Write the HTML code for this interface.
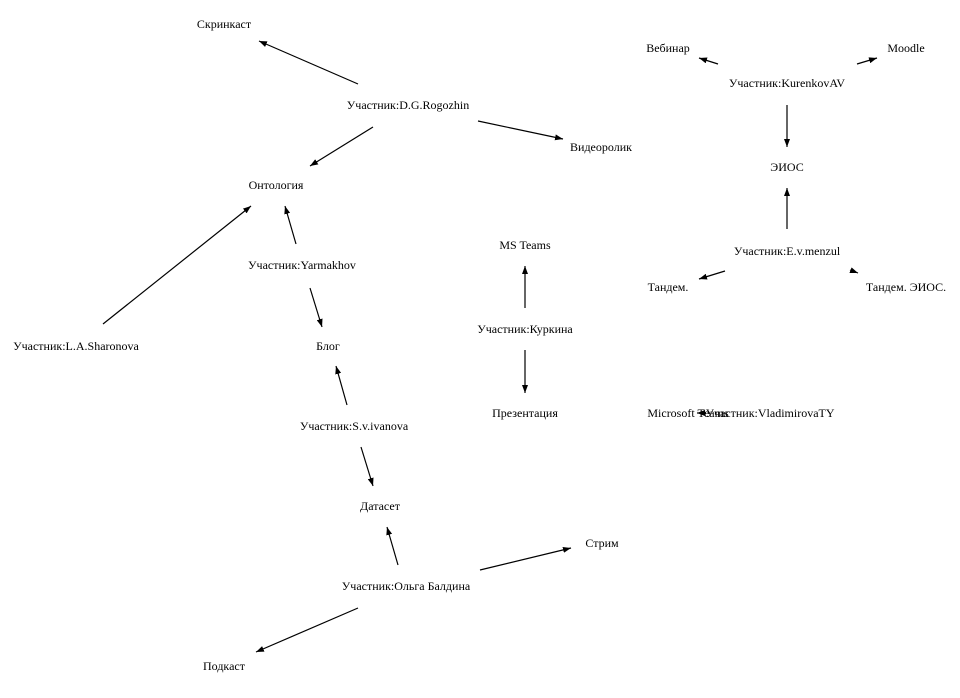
<!DOCTYPE html>
<html><head><meta charset="utf-8"><style>body{margin:0;background:#fff}svg text{font-family:"Liberation Serif","Noto Serif CJK SC",serif;font-size:12px;text-anchor:middle}</style></head><body>
<svg width="960" height="693" viewBox="0 0 960 693" xmlns="http://www.w3.org/2000/svg">
<defs><marker id="a" markerWidth="8" markerHeight="6" refX="8" refY="3" orient="auto" markerUnits="userSpaceOnUse"><path d="M0,0L8,3L0,6z" fill="#000"/></marker></defs>
<g stroke="#000" stroke-width="1.2" marker-end="url(#a)">
<line x1="358" y1="84" x2="259" y2="41"/>
<line x1="373" y1="127" x2="310" y2="166"/>
<line x1="478" y1="121" x2="563" y2="139"/>
<line x1="296" y1="244" x2="285" y2="206"/>
<line x1="310" y1="288" x2="322" y2="327"/>
<line x1="103" y1="324" x2="251" y2="206"/>
<line x1="347" y1="405" x2="336" y2="366"/>
<line x1="361" y1="447" x2="373" y2="486"/>
<line x1="398" y1="565" x2="387" y2="527"/>
<line x1="480" y1="570" x2="571" y2="548"/>
<line x1="358" y1="608" x2="256" y2="652"/>
<line x1="525" y1="308" x2="525" y2="266"/>
<line x1="525" y1="350" x2="525" y2="393"/>
<line x1="718" y1="64" x2="699" y2="58"/>
<line x1="857" y1="64" x2="877" y2="58"/>
<line x1="787" y1="105" x2="787" y2="147"/>
<line x1="787" y1="229" x2="787" y2="188"/>
<line x1="725" y1="271" x2="699" y2="279"/>
<line x1="850" y1="270" x2="858" y2="273"/>
<line x1="706" y1="413" x2="697" y2="413"/>
</g>
<text x="224" y="28">Скринкаст</text>
<text x="408" y="109">Участник:D.G.Rogozhin</text>
<text x="601" y="151">Видеоролик</text>
<text x="276" y="189">Онтология</text>
<text x="302" y="269">Участник:Yarmakhov</text>
<text x="76" y="350">Участник:L.A.Sharonova</text>
<text x="328" y="350">Блог</text>
<text x="354" y="430">Участник:S.v.ivanova</text>
<text x="380" y="510">Датасет</text>
<text x="602" y="547">Стрим</text>
<text x="406" y="590">Участник:Ольга Балдина</text>
<text x="224" y="670">Подкаст</text>
<text x="525" y="249">MS Teams</text>
<text x="525" y="333">Участник:Куркина</text>
<text x="525" y="417">Презентация</text>
<text x="668" y="52">Вебинар</text>
<text x="906" y="52">Moodle</text>
<text x="787" y="87">Участник:KurenkovAV</text>
<text x="787" y="171">ЭИОС</text>
<text x="787" y="255">Участник:E.v.menzul</text>
<text x="668" y="291">Тандем.</text>
<text x="906" y="291">Тандем. ЭИОС.</text>
<text x="688" y="417">Microsoft Teams</text>
<text x="770" y="417">Участник:VladimirovaTY</text>
</svg>
</body></html>
